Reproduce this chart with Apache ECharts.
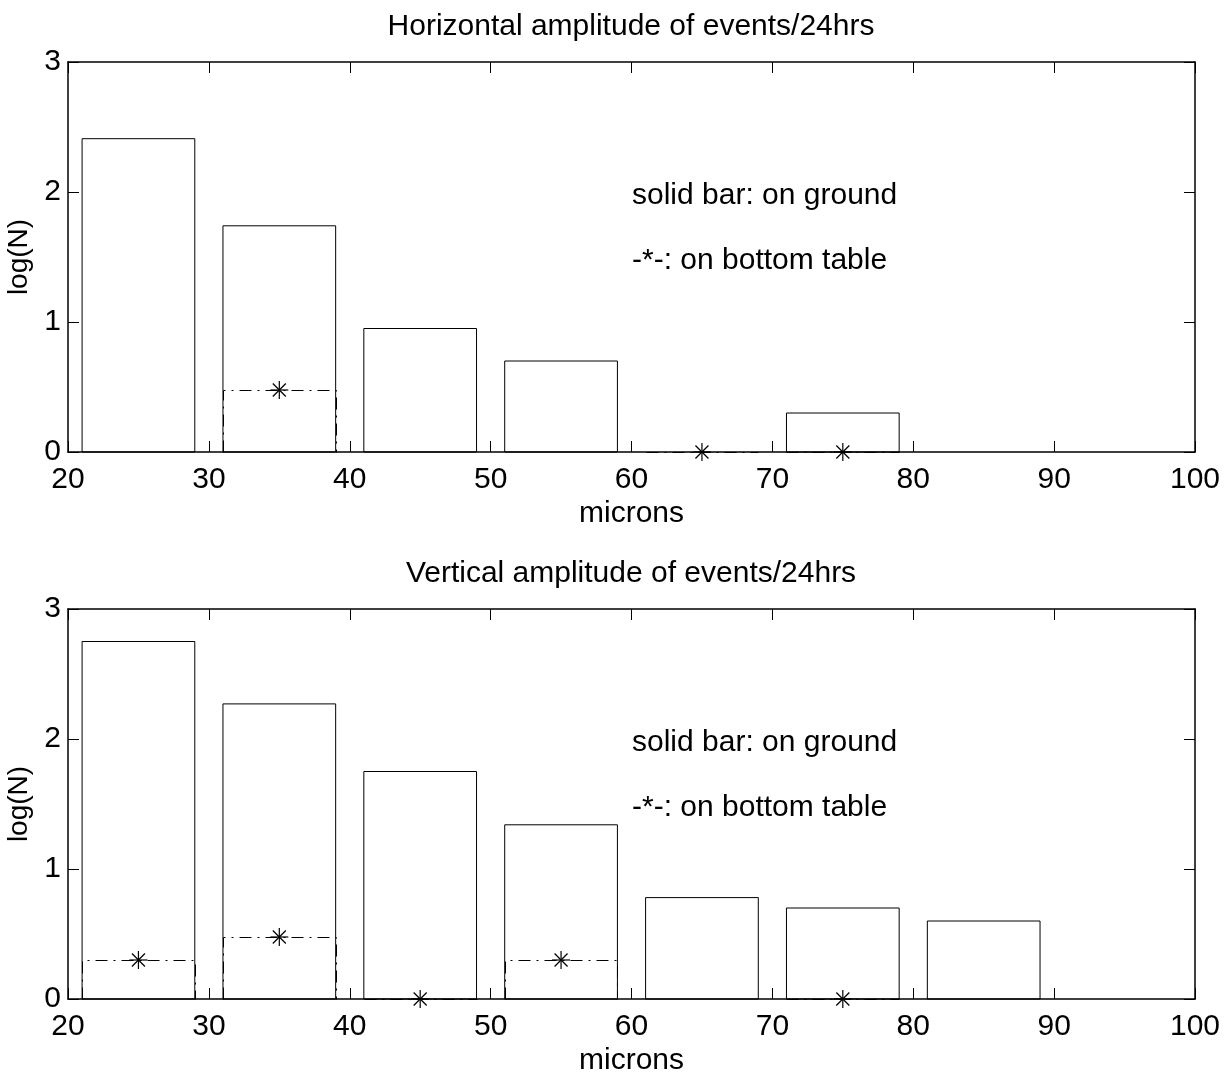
<!DOCTYPE html>
<html>
<head>
<meta charset="utf-8">
<script src="https://cdn.jsdelivr.net/npm/echarts@6/dist/echarts.min.js"></script>
<style>
  html, body { margin: 0; padding: 0; background: #fff; }
  #chart { width: 1225px; height: 1074px; }
</style>
</head>
<body>
<div id="chart"></div>
<script>
// bin centres (microns), bins are 8 wide
const centers = [25, 35, 45, 55, 65, 75, 85];
// log(N) per bin, null = no bar
const horizGround = [2.41, 1.74, 0.95, 0.70, null, 0.30, null];
const horizTable  = [null, 0.477, null, null, 0, 0, null];
const vertGround  = [2.75, 2.27, 1.75, 1.34, 0.78, 0.70, 0.60];
const vertTable   = [0.30, 0.477, 0, 0.30, null, 0, null];
const titles = ['Horizontal amplitude of events/24hrs', 'Vertical amplitude of events/24hrs'];
const legendText = ['solid bar: on ground', '-*-: on bottom table'];

const FONT = 'Liberation Sans, Arial, sans-serif';
const FS = 30;
const halfW = 4;

function pairs(vals) {
  const out = [];
  vals.forEach((v, i) => { if (v !== null) out.push([centers[i], v]); });
  return out;
}

// snap to pixel centre so 1px lines stay crisp
function snap(p) { return [Math.round(p[0]) + 0.5, Math.round(p[1]) + 0.5]; }

// solid outlined bar
function renderBar(params, api) {
  const x = api.value(0), v = api.value(1);
  const p0 = api.coord([x - halfW, 0]);
  const p1 = api.coord([x + halfW, v]);
  return {
    type: 'rect',
    shape: { x: p0[0], y: p1[1], width: p1[0] - p0[0], height: p0[1] - p1[1] },
    style: { fill: 'none', stroke: '#000', lineWidth: 1 }
  };
}

// dash-dot outline with asterisk at centre
function renderTable(params, api) {
  const x = api.value(0), v = api.value(1);
  const a = snap(api.coord([x - halfW, 0]));
  const b = snap(api.coord([x - halfW, v]));
  const c = snap(api.coord([x + halfW, v]));
  const d = snap(api.coord([x + halfW, 0]));
  const m = api.coord([x, v]);
  const r = 9, q = 6.5;
  const st = { stroke: '#000', lineWidth: 1.2 };
  return {
    type: 'group',
    children: [
      { type: 'polyline', shape: { points: [a, b, c, d] },
        style: { fill: 'none', stroke: '#000', lineWidth: 1, lineDash: [12, 6, 2, 6] } },
      { type: 'line', shape: { x1: m[0] - r, y1: m[1], x2: m[0] + r, y2: m[1] }, style: st },
      { type: 'line', shape: { x1: m[0], y1: m[1] - r, x2: m[0], y2: m[1] + r }, style: st },
      { type: 'line', shape: { x1: m[0] - q, y1: m[1] - q, x2: m[0] + q, y2: m[1] + q }, style: st },
      { type: 'line', shape: { x1: m[0] - q, y1: m[1] + q, x2: m[0] + q, y2: m[1] - q }, style: st }
    ]
  };
}

const gridTops = [62, 609];
const plotH = 390;

const grids = [], xAxes = [], yAxes = [], series = [], titleOpts = [], graphics = [];
gridTops.forEach((top, g) => {
  grids.push({ left: 68, top: top, width: 1127, height: plotH, outerBoundsMode: 'none', containLabel: false });
  const line = { show: true, onZero: false, lineStyle: { color: '#000', width: 1.5 } };
  const tick = { show: true, inside: true, length: 11, lineStyle: { color: '#000', width: 1 } };
  // bottom x
  xAxes.push({
    type: 'value', gridIndex: g, position: 'bottom', min: 20, max: 100, interval: 10,
    name: 'microns', nameLocation: 'middle', nameGap: 47,
    nameTextStyle: { fontFamily: FONT, fontSize: FS, color: '#000' },
    axisLine: line, axisTick: tick,
    axisLabel: { fontFamily: FONT, fontSize: FS, color: '#000', margin: 13 },
    splitLine: { show: false }
  });
  // top x (box)
  xAxes.push({
    type: 'value', gridIndex: g, position: 'top', min: 20, max: 100, interval: 10,
    axisLine: line, axisTick: tick,
    axisLabel: { show: false }, splitLine: { show: false }
  });
  yAxes.push({
    type: 'value', gridIndex: g, position: 'left', min: 0, max: 3, interval: 1,
    name: 'log(N)', nameLocation: 'middle', nameGap: 34, nameRotate: 90,
    nameTextStyle: { fontFamily: FONT, fontSize: 28, color: '#000' },
    axisLine: line, axisTick: tick,
    axisLabel: { fontFamily: FONT, fontSize: FS, color: '#000', margin: 7, padding: [0, 0, 6, 0] },
    splitLine: { show: false }
  });
  yAxes.push({
    type: 'value', gridIndex: g, position: 'right', min: 0, max: 3, interval: 1,
    axisLine: line, axisTick: tick,
    axisLabel: { show: false }, splitLine: { show: false }
  });
  const ground = g === 0 ? horizGround : vertGround;
  const table = g === 0 ? horizTable : vertTable;
  series.push({
    type: 'custom', xAxisIndex: g * 2, yAxisIndex: g * 2,
    renderItem: renderBar, data: pairs(ground), silent: true, clip: false
  });
  series.push({
    type: 'custom', xAxisIndex: g * 2, yAxisIndex: g * 2,
    renderItem: renderTable, data: pairs(table), silent: true, clip: false, z: 3
  });
  titleOpts.push({
    text: titles[g], left: 631, top: top - 50, textAlign: 'center', padding: 0,
    textStyle: { fontFamily: FONT, fontSize: FS, fontWeight: 'normal', color: '#000' }
  });
  graphics.push({
    type: 'text', left: 632, top: top + 119,
    style: { text: legendText[0], fontFamily: FONT, fontSize: FS, fill: '#000' }
  });
  graphics.push({
    type: 'text', left: 632, top: top + 184,
    style: { text: legendText[1], fontFamily: FONT, fontSize: FS, fill: '#000' }
  });
});

const myChart = echarts.init(document.getElementById('chart'), null, { renderer: 'canvas' });
myChart.setOption({
  backgroundColor: '#fff',
  animation: false,
  title: titleOpts,
  grid: grids,
  xAxis: xAxes,
  yAxis: yAxes,
  series: series,
  graphic: graphics
});
</script>
</body>
</html>
